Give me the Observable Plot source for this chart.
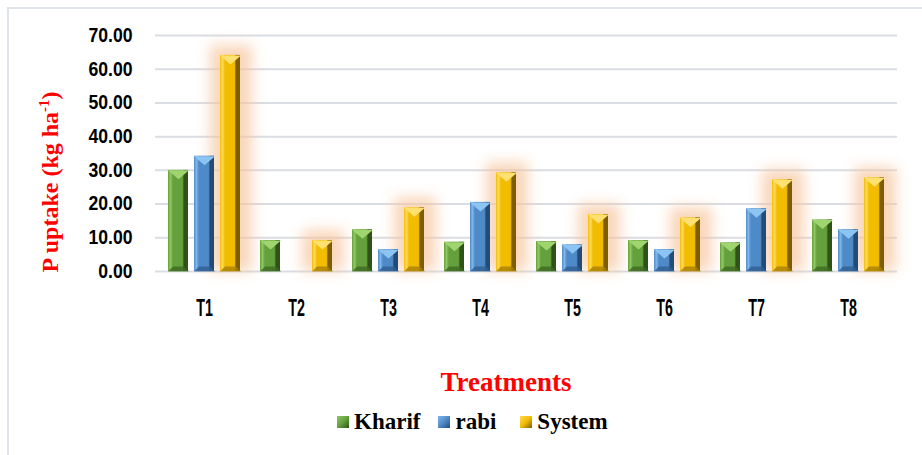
<!DOCTYPE html>
<html>
<head>
<meta charset="utf-8">
<script src="https://cdn.jsdelivr.net/npm/d3@7"></script>
<script src="https://cdn.jsdelivr.net/npm/@observablehq/plot@0.6"></script>
<style>
  body { margin: 0; background: #fff; }
  #wrap { position: relative; width: 922px; height: 455px; overflow: hidden; background: #fff; }
  #frame { position: absolute; left: 7px; top: 7px; width: 940px; height: 470px; border-left: 2px solid #dfe4ea; border-top: 2px solid #dfe4ea; }
  #chart { position: absolute; left: 0; top: 0; }
  g[fill="#f7c49c"] { filter: blur(7px); }
  #ytitle { position: absolute; left: 50px; top: 182px; transform: translate(-50%, -50%) rotate(-90deg);
    white-space: nowrap; font: bold 24px "Liberation Serif", "Times New Roman", serif; color: #ff0000; }
  #ytitle sup { font-size: 15px; vertical-align: 9px; line-height: 0; }
  #xtitle { position: absolute; left: 506px; top: 382px; transform: translate(-50%, -50%);
    white-space: nowrap; font: bold 27px "Liberation Serif", "Times New Roman", serif; color: #ff0000; }
  #legend { position: absolute; left: 337px; top: 410px; height: 24px; display: flex; align-items: center;
    font: bold 23px "Liberation Serif", "Times New Roman", serif; color: #000; white-space: nowrap; }
  .sw { display: inline-block; width: 12px; height: 12px; margin-right: 5px; }
  .item { display: flex; align-items: center; }
</style>
</head>
<body>
<div id="wrap">
  <div id="frame"></div>
  <div id="chart"></div>
  <div id="ytitle">P uptake (kg ha<sup>-1</sup>)</div>
  <div id="xtitle">Treatments</div>
  <div id="legend"></div>
</div>
<script>
const treatments = ["T1", "T2", "T3", "T4", "T5", "T6", "T7", "T8"];
const series = ["Kharif", "rabi", "System"];
const kharif = [30.0, 9.2, 12.4, 8.7, 8.9, 9.2, 8.5, 15.3];
const rabi   = [34.2, 0.0, 6.5, 20.5, 7.9, 6.5, 18.6, 12.4];
const system = [64.1, 9.2, 18.9, 29.3, 16.9, 15.9, 27.2, 27.8];
const yTicks = [0, 10, 20, 30, 40, 50, 60, 70];

const palette = {
  Kharif: {light: "#8fc863", mid: "#64a03c", dark: "#2f5218", tri: "#9fd46f", bot: "#3e6a22"},
  rabi:   {light: "#80b7ea", mid: "#4f8ac8", dark: "#234b78", tri: "#8cc4f3", bot: "#2f5f94"},
  System: {light: "#ffd95a", mid: "#f2bd00", dark: "#7d5d00", tri: "#ffe070", bot: "#a98000"}
};

const rows = [];
treatments.forEach((t, i) => {
  rows.push({treatment: t, series: "Kharif", value: kharif[i]});
  rows.push({treatment: t, series: "rabi", value: rabi[i]});
  rows.push({treatment: t, series: "System", value: system[i]});
});

const defs = () => {
  const d = d3.create("svg:defs");
  for (const s of series) {
    const p = palette[s];
    const g = d.append("linearGradient").attr("id", "grad-" + s).attr("x1", "0").attr("x2", "1").attr("y1", "0").attr("y2", "0");
    g.append("stop").attr("offset", "0%").attr("stop-color", p.mid);
    g.append("stop").attr("offset", "12%").attr("stop-color", p.light);
    g.append("stop").attr("offset", "25%").attr("stop-color", p.mid);
    g.append("stop").attr("offset", "72%").attr("stop-color", p.mid);
    g.append("stop").attr("offset", "80%").attr("stop-color", p.dark);
    g.append("stop").attr("offset", "100%").attr("stop-color", p.dark);
  }
  return d.node();
};

// bar geometry inside the band of each treatment (pixel offsets, style only)
const BW = 21, GAP = 5;
const insets = {
  Kharif: {l: 0, r: 2 * (BW + GAP)},
  rabi:   {l: BW + GAP, r: BW + GAP},
  System: {l: 2 * (BW + GAP), r: 0}
};
const centerDx = {Kharif: -(BW + GAP), rabi: 0, System: BW + GAP};

const topTri = {draw(ctx) { ctx.moveTo(-BW / 2, 0); ctx.lineTo(BW / 2, 0); ctx.lineTo(0, 9); ctx.closePath(); }};
const botTrap = {draw(ctx) { ctx.moveTo(-BW / 2, 0); ctx.lineTo(BW / 2, 0); ctx.lineTo(BW / 2 - 5, -5); ctx.lineTo(-BW / 2 + 5, -5); ctx.closePath(); }};

const marks = [
  defs,
  Plot.ruleY(yTicks, {stroke: "#dadde3", strokeWidth: 2}),
  Plot.barY(rows.filter(d => d.series === "System" && d.value > 0), {
    x: "treatment", y: "value", fill: "#f7c49c", fillOpacity: 0.7,
    insetLeft: insets.System.l - 10, insetRight: -12, insetTop: -10
  })
];
for (const s of series) {
  const data = rows.filter(d => d.series === s && d.value > 0);
  marks.push(Plot.barY(data, {x: "treatment", y: "value", fill: `url(#grad-${s})`,
    insetLeft: insets[s].l, insetRight: insets[s].r}));
  marks.push(Plot.dot(data, {x: "treatment", y: "value", dx: centerDx[s], symbol: topTri, fill: palette[s].tri, stroke: "none"}));
  marks.push(Plot.dot(data, {x: "treatment", y: 0, dx: centerDx[s], symbol: botTrap, fill: palette[s].bot, stroke: "none", fillOpacity: 0.8}));
}

const tickFont = "'Liberation Sans', Arial, sans-serif";
const chart = Plot.plot({
  width: 922,
  height: 340,
  marginTop: 35,
  marginBottom: 69,
  marginLeft: 155,
  marginRight: 25,
  style: {background: "transparent", overflow: "visible"},
  x: {domain: treatments, paddingInner: 0.213, paddingOuter: 0.1065, label: null, tickSize: 0, tickPadding: 30},
  y: {domain: [0, 70], ticks: yTicks, tickFormat: d3.format(".2f"), label: null, tickSize: 0, tickPadding: 22},
  marks: [
    ...marks,
    Plot.axisX({tickSize: 0, tickPadding: 28, label: null,
      fontSize: 23, fontWeight: "bold", fontFamily: tickFont, fill: "#000"}),
    Plot.axisY({ticks: yTicks, tickFormat: d3.format(".2f"), tickSize: 0, tickPadding: 23, label: null,
      fontSize: 20, fontWeight: "bold", fontFamily: tickFont, fill: "#000"})
  ]
});
document.getElementById("chart").appendChild(chart);

// horizontally condense tick labels (the original uses a narrow face)
function condense(selector, k) {
  d3.select(chart).selectAll(selector).each(function() {
    const t = d3.select(this);
    const tr = t.attr("transform");
    if (tr) {
      t.attr("transform", tr + ` scale(${k},1)`);
    } else {
      const x = +t.attr("x") || 0, y = +t.attr("y") || 0;
      t.attr("x", null).attr("y", null).attr("transform", `translate(${x},${y}) scale(${k},1)`);
    }
  });
}
condense('g[aria-label="x-axis tick label"] text', 0.62);
condense('g[aria-label="y-axis tick label"] text', 0.88);

const legend = d3.select("#legend");
const gaps = [18, 24, 0];
series.forEach((s, i) => {
  const p = palette[s];
  const it = legend.append("span").attr("class", "item").style("margin-right", gaps[i] + "px");
  it.append("span").attr("class", "sw")
    .style("background", `linear-gradient(135deg, ${p.light} 0%, ${p.mid} 50%, ${p.dark} 100%)`);
  it.append("span").text(s);
});
</script>
</body>
</html>
